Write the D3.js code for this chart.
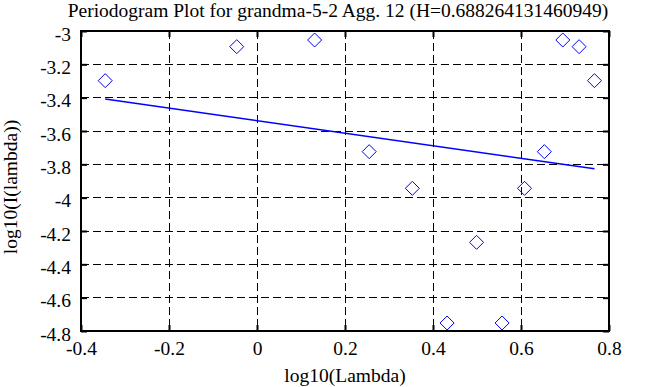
<!DOCTYPE html>
<html>
<head>
<meta charset="utf-8">
<script src="https://cdn.jsdelivr.net/npm/d3@7"></script>
<style>
  body { margin: 0; background: #fff; }
  svg text { font-family: "Liberation Serif", "Times New Roman", serif; fill: #000; }
</style>
</head>
<body>
<div id="chart"></div>
<script>
const title = "Periodogram Plot for grandma-5-2 Agg. 12 (H=0.688264131460949)";
const xLabel = "log10(Lambda)";
const yLabel = "log10(I(lambda))";

const logLambda = [-0.345, -0.046, 0.131, 0.255, 0.353, 0.432, 0.499, 0.557, 0.608, 0.653, 0.695, 0.732, 0.767];
const logPeriodogram = [-3.298, -3.094, -3.054, -3.724, -3.944, -4.752, -4.268, -4.752, -3.944, -3.724, -3.054, -3.094, -3.298];

// fitted line: slope = 1 - 2H
const H = 0.688264131460949;
const fitSlope = 1 - 2 * H;
const fitIntercept = -3.538;

const xTicks = [-0.4, -0.2, 0, 0.2, 0.4, 0.6, 0.8];
const yTicks = [-3, -3.2, -3.4, -3.6, -3.8, -4, -4.2, -4.4, -4.6, -4.8];

const width = 663, height = 387;
const margin = { top: 31, right: 54, bottom: 56, left: 81 };
const innerW = width - margin.left - margin.right;
const innerH = height - margin.top - margin.bottom;
const fontSize = 19.5;

const svg = d3.select("#chart").append("svg")
  .attr("width", width)
  .attr("height", height);

const g = svg.append("g")
  .attr("transform", `translate(${margin.left},${margin.top})`);

const x = d3.scaleLinear().domain([-0.4, 0.8]).range([0, innerW]);
const y = d3.scaleLinear().domain([-4.8, -3]).range([innerH, 0]);

// grid
g.append("g").selectAll("line")
  .data(xTicks.slice(1, -1))
  .enter().append("line")
  .attr("x1", d => x(d)).attr("x2", d => x(d))
  .attr("y1", 0).attr("y2", innerH)
  .attr("stroke", "#000").attr("stroke-width", 1)
  .attr("stroke-dasharray", "8,4")
  .attr("shape-rendering", "crispEdges");

g.append("g").selectAll("line")
  .data(yTicks.slice(1, -1))
  .enter().append("line")
  .attr("x1", 0).attr("x2", innerW)
  .attr("y1", d => y(d)).attr("y2", d => y(d))
  .attr("stroke", "#000").attr("stroke-width", 1)
  .attr("stroke-dasharray", "8,4")
  .attr("shape-rendering", "crispEdges");

// axes with inward ticks, plain hyphen minus
const fmt = d => String(+d.toFixed(1));
const axB = g.append("g").attr("transform", `translate(0,${innerH})`)
  .call(d3.axisBottom(x).tickValues(xTicks).tickSize(-6).tickFormat(fmt));
const axL = g.append("g")
  .call(d3.axisLeft(y).tickValues(yTicks).tickSize(-6).tickFormat(fmt));
const axT = g.append("g")
  .call(d3.axisTop(x).tickValues(xTicks).tickSize(-6).tickFormat(""));
const axR = g.append("g").attr("transform", `translate(${innerW},0)`)
  .call(d3.axisRight(y).tickValues(yTicks).tickSize(-6).tickFormat(""));

[axB, axL, axT, axR].forEach(a => {
  a.attr("font-family", null).attr("font-size", null);
  a.select(".domain").remove();
  a.selectAll(".tick line").attr("stroke", "#000").attr("stroke-width", 2);
  a.selectAll("text").attr("font-size", fontSize);
});
axB.selectAll("text").attr("y", 24).attr("dy", 0);
axL.selectAll("text").attr("x", -10).attr("dy", 9);

g.append("rect")
  .attr("width", innerW).attr("height", innerH)
  .attr("fill", "none").attr("stroke", "#000").attr("stroke-width", 2);

// fitted line
const x0 = d3.min(logLambda), x1 = d3.max(logLambda);
g.append("line")
  .attr("x1", x(x0)).attr("y1", y(fitIntercept + fitSlope * x0))
  .attr("x2", x(x1)).attr("y2", y(fitIntercept + fitSlope * x1))
  .attr("stroke", "#0000ff").attr("stroke-width", 1.5);

// diamonds
const pts = logLambda.map((v, i) => ({ x: v, y: logPeriodogram[i] }));
g.append("g").selectAll("path")
  .data(pts)
  .enter().append("path")
  .attr("d", "M0,-7L7,0L0,7L-7,0Z")
  .attr("transform", d => `translate(${x(d.x)},${y(d.y)})`)
  .attr("fill", "none").attr("stroke", "#0000ff").attr("stroke-width", 1);

// labels
svg.append("text")
  .attr("x", 338).attr("y", 17)
  .attr("text-anchor", "middle").attr("font-size", fontSize)
  .text(title);

svg.append("text")
  .attr("x", margin.left + innerW / 2).attr("y", 382)
  .attr("text-anchor", "middle").attr("font-size", fontSize)
  .text(xLabel);

svg.append("text")
  .attr("transform", `translate(17,187) rotate(-90)`)
  .attr("text-anchor", "middle").attr("font-size", fontSize)
  .text(yLabel);
</script>
</body>
</html>
